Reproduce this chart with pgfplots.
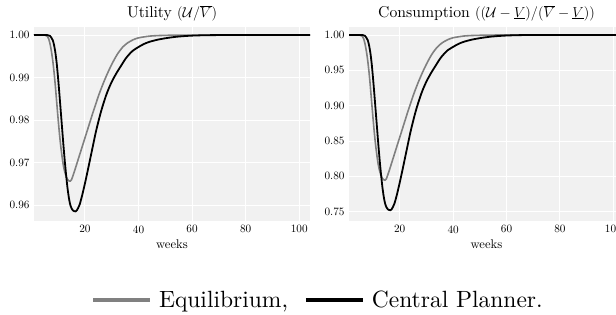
\documentclass[border=0pt]{standalone}
\DeclareFontShape{TU}{lmr}{m}{n}{<->"[lmroman10-regular]:+tlig;"}{}
\usepackage{pgfplots}
\usepackage{pgfplotstable}
\pgfplotsset{compat=1.18}
\definecolor{bg}{RGB}{241,241,241}
\definecolor{eqgray}{RGB}{128,128,128}

\pgfplotstableread{
x u c
1 1.0 1.0
5 1.0 1.0
6 0.9997 0.9982
6.5 0.9991 0.9946
7 0.9979 0.9874
7.5 0.9962 0.9773
8 0.9940 0.9641
8.5 0.9912 0.9473
9 0.9878 0.9270
9.5 0.9840 0.9042
10 0.9803 0.8821
10.5 0.9768 0.8611
11 0.9738 0.8432
11.5 0.9713 0.8282
12 0.9692 0.8156
12.5 0.9678 0.8073
13 0.9668 0.8013
13.5 0.9661 0.7971
14 0.96575 0.7950
14.5 0.96565 0.7944
15 0.9660 0.7965
16 0.9678 0.8073
17 0.9698 0.8192
18 0.9718 0.8312
19 0.9738 0.8432
20 0.9758 0.8551
21 0.9778 0.8671
22 0.9798 0.8791
23 0.9818 0.8911
24 0.9837 0.9024
25 0.9856 0.9138
26 0.9873 0.9240
27 0.9889 0.9336
28 0.9904 0.9425
29 0.9918 0.9509
30 0.9931 0.9587
31 0.9943 0.9659
32 0.9954 0.9725
33 0.9963 0.9779
34 0.9971 0.9826
35 0.9977 0.9862
36 0.9982 0.9892
38 0.9989 0.9934
40 0.99935 0.9961
44 0.99975 0.9985
48 0.9999 0.9994
55 1.0 0.99985
60 1.0 1.0
104 1.0 1.0
}\eqtable

\pgfplotstableread{
x u c
1 1.0 1.0
6 1.0 1.0
7 0.9998 0.9988
8 0.9988 0.9928
8.5 0.9976 0.9856
9 0.9958 0.9749
9.5 0.9932 0.9593
10 0.9898 0.9389
10.5 0.9860 0.9162
11 0.9820 0.8923
11.5 0.9780 0.8683
12 0.9740 0.8444
12.5 0.9703 0.8222
13 0.9670 0.8025
13.5 0.9641 0.7851
14 0.9618 0.7713
14.5 0.9602 0.7618
15 0.9593 0.7564
15.5 0.9588 0.7534
16 0.95862 0.7523
16.5 0.95855 0.7519
17 0.9588 0.7534
18 0.9601 0.7612
19 0.9624 0.7749
20 0.9651 0.7911
21 0.9680 0.8084
22 0.9710 0.8264
23 0.9740 0.8444
24 0.9770 0.8623
25 0.9796 0.8779
26 0.9820 0.8923
27 0.9841 0.9048
28 0.9860 0.9162
29 0.9876 0.9258
30 0.9890 0.9342
31 0.9902 0.9413
32 0.9913 0.9479
33 0.9923 0.9539
34 0.9933 0.9599
35 0.9943 0.9659
36 0.9951 0.9707
37 0.9958 0.9749
38 0.9964 0.9785
40 0.9972 0.9832
42 0.9979 0.9874
44 0.9984 0.9904
47 0.9989 0.9934
50 0.99925 0.9955
54 0.9996 0.9976
58 0.9998 0.9988
62 0.99992 0.9995
70 1.0 1.0
104 1.0 1.0
}\cptable

\pgfplotsset{
  panel/.style={
    scale only axis,
    height=194pt,
    xmin=1, xmax=104,
    axis background/.style={fill=bg},
    axis line style={draw=none},
    major tick length=0pt,
    grid=major,
    major grid style={white, line width=0.9pt},
    xtick={20,40,60,80,100},
    tick label style={font=\fontsize{11.2}{13}\selectfont},
    /pgf/number format/assume math mode=true,
    yticklabel style={/pgf/number format/fixed, /pgf/number format/fixed zerofill, /pgf/number format/precision=2, xshift=-1pt},
    xticklabel style={yshift=-1pt},
    xlabel={weeks},
    xlabel style={font=\fontsize{12.6}{14}\selectfont, yshift=0pt},
    title style={font=\fontsize{15.7}{18}\selectfont, inner sep=1pt, yshift=-1pt},
    clip=true,
  },
  eqline/.style={eqgray, line width=1.6pt, line join=round, smooth, tension=0.4},
  cpline/.style={black, line width=1.8pt, line join=round, smooth, tension=0.4},
}

\begin{document}
\begin{tikzpicture}
\begin{axis}[panel,
  at={(34pt,-221pt)}, anchor=south west, width=276pt,
  ymin=0.9563, ymax=1.0019,
  ytick={0.96,0.97,0.98,0.99,1.00},
  title={Utility $(\mathcal{U}/\overline{V})$},
  legend columns=2,
  legend style={at={(57pt,-79pt)}, anchor=west, draw=none, fill=none,
    font=\fontsize{23.5}{27}\selectfont, inner sep=0pt,
    /tikz/every odd column/.append style={column sep=5pt},
    /tikz/every even column/.append style={column sep=14pt}},
  legend cell align=left,
  legend image code/.code={\draw[#1, line width=3.8pt] (0pt,0pt) -- (57pt,0pt);},
]
\addplot[eqline] table[x=x, y=u] {\eqtable};
\addlegendentry{Equilibrium,}
\addplot[cpline] table[x=x, y=u] {\cptable};
\addlegendentry{Central Planner.}
\end{axis}
\begin{axis}[panel,
  at={(349pt,-221pt)}, anchor=south west, width=275pt,
  ymin=0.7367, ymax=1.0113,
  ytick={0.75,0.80,0.85,0.90,0.95,1.00},
  title={Consumption $((\mathcal{U}-\underline{V})/(\overline{V}-\underline{V}))$},
]
\addplot[eqline] table[x=x, y=c] {\eqtable};
\addplot[cpline] table[x=x, y=c] {\cptable};
\end{axis}
\pgfresetboundingbox
\path[use as bounding box] (0pt,0pt) rectangle (616pt,-314pt);
\end{tikzpicture}
\end{document}
